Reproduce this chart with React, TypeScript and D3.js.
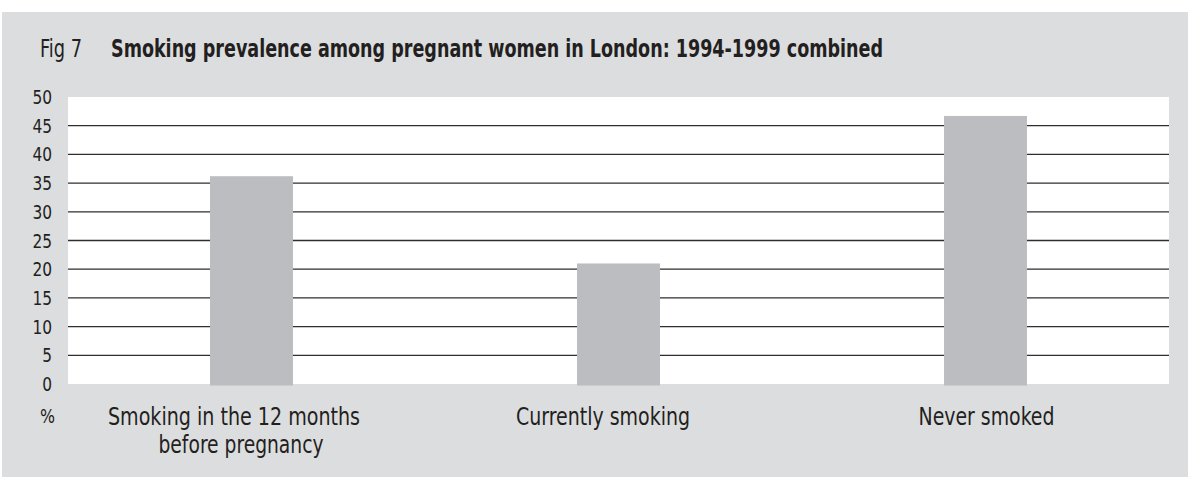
import React from "react";
import * as d3 from "d3";

const categories = ["Smoking in the 12 months|before pregnancy", "Currently smoking", "Never smoked"];
const values = [36.2, 21.0, 46.7];
const yTicks = [0, 5, 10, 15, 20, 25, 30, 35, 40, 45, 50];
const figLabel = "Fig 7";
const title = "Smoking prevalence among pregnant women in London: 1994-1999 combined";
const unitLabel = "%";

const W = 1188;
const H = 477;
const plot = { left: 68, right: 1169, top: 97, bottom: 384 };
// layout: horizontal offset of each category label line from its bar centre, and fitted text widths
const labelLineShift = [[-17.5, -10.5], [-15.5], [1]];
const labelLineWidths = [[252, 165], [174], [136]];
const FONT = "'DejaVu Sans Condensed', 'Liberation Sans', sans-serif";
const TEXT = "#231f20";

export default function App() {
  const x = d3
    .scaleBand<string>()
    .domain(categories)
    .range([plot.left, plot.right])
    .paddingInner(0.774)
    .paddingOuter(0.387);
  const y = d3.scaleLinear().domain([0, 50]).range([plot.bottom, plot.top]);

  return (
    <svg
      width={W}
      height={H}
      style={{ position: "absolute", left: 0, top: 0, display: "block" }}
      fontFamily={FONT}
    >
      <rect x={0} y={0} width={W} height={H} fill="#ffffff" />
      <rect x={2} y={12} width={W - 2} height={H - 12} fill="#dcdddf" />
      <rect
        x={plot.left}
        y={plot.top}
        width={plot.right - plot.left}
        height={plot.bottom - plot.top}
        fill="#ffffff"
      />
      {yTicks
        .filter((t) => t > 0 && t < 50)
        .map((t) => (
          <line
            key={t}
            x1={plot.left}
            x2={plot.right}
            y1={y(t)}
            y2={y(t)}
            stroke="#2e2e2e"
            strokeWidth={1.3}
          />
        ))}
      {categories.map((c, i) => (
        <rect
          key={c}
          x={x(c)}
          y={y(values[i])}
          width={x.bandwidth()}
          height={y(0) - y(values[i]) + 1.5}
          fill="#bcbdc1"
        />
      ))}
      {yTicks.map((t) => (
        <text
          key={t}
          x={52}
          y={y(t) + 7}
          textAnchor="end"
          fontSize={20}
          fill={TEXT}
          textLength={String(t).length * 9.8}
          lengthAdjust="spacingAndGlyphs"
        >
          {t}
        </text>
      ))}
      <text
        x={47.5}
        y={423}
        textAnchor="middle"
        fontSize={19}
        fill={TEXT}
        textLength={15}
        lengthAdjust="spacingAndGlyphs"
      >
        {unitLabel}
      </text>
      {categories.map((c, i) => {
        const lines = c.split("|");
        const cx = (x(c) as number) + x.bandwidth() / 2;
        return (
          <g key={c}>
            {lines.map((l, j) => (
              <text
                key={j}
                x={cx + labelLineShift[i][j]}
                y={425 + j * 28}
                textAnchor="middle"
                fontSize={25}
                fill={TEXT}
                textLength={labelLineWidths[i][j]}
                lengthAdjust="spacingAndGlyphs"
              >
                {l}
              </text>
            ))}
          </g>
        );
      })}
      <text
        x={40}
        y={57}
        fontSize={25}
        fill={TEXT}
        textLength={42}
        lengthAdjust="spacingAndGlyphs"
      >
        {figLabel}
      </text>
      <text
        x={111}
        y={57}
        fontSize={25}
        fontWeight="bold"
        fill={TEXT}
        textLength={772}
        lengthAdjust="spacingAndGlyphs"
      >
        {title}
      </text>
    </svg>
  );
}
